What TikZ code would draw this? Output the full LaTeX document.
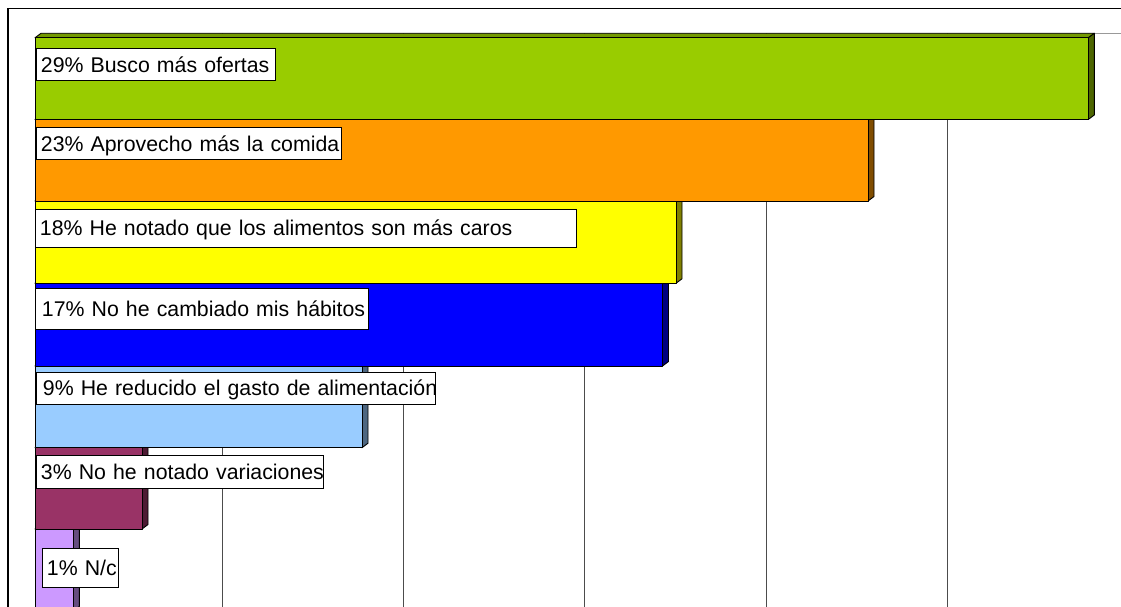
\documentclass[tikz,border=0pt]{standalone}
\usepackage{fontspec}
\setmainfont{Liberation Sans}
\definecolor{gF}{HTML}{99CC00}\definecolor{gS}{HTML}{4D6600}\definecolor{gT}{HTML}{739900}
\definecolor{oF}{HTML}{FF9900}\definecolor{oS}{HTML}{804D00}\definecolor{oT}{HTML}{BF7300}
\definecolor{yF}{HTML}{FFFF00}\definecolor{yS}{HTML}{808000}\definecolor{yT}{HTML}{BFBF00}
\definecolor{bF}{HTML}{0000FF}\definecolor{bS}{HTML}{000080}\definecolor{bT}{HTML}{0000BF}
\definecolor{lF}{HTML}{99CCFF}\definecolor{lS}{HTML}{4D6680}\definecolor{lT}{HTML}{7399BF}
\definecolor{mF}{HTML}{993366}\definecolor{mS}{HTML}{4D1A33}\definecolor{mT}{HTML}{73264D}
\definecolor{pF}{HTML}{CC99FF}\definecolor{pS}{HTML}{664D80}\definecolor{pT}{HTML}{9973BF}
\newcommand\mybar[6]{%
  \filldraw[fill=#3,barline] (35,#4) -- (41,#4-4.5) -- (#6+6,#4-4.5) -- (#6,#4) -- cycle;
  \filldraw[fill=#2,barline] (#6,#4) -- (#6+6,#4-4.5) -- (#6+6,#5-4.5) -- (#6,#5) -- cycle;
  \filldraw[fill=#1,barline] (35,#4) rectangle (#6,#5);
}
\begin{document}
\begin{tikzpicture}[x=1pt,y=-1pt,
  lbl/.style={draw=black, line width=0.9pt, fill=white, anchor=north west,
    inner xsep=4.5pt, inner ysep=0pt, align=left,
    font=\fontsize{21.3}{26}\selectfont, text height=15.3pt, text depth=0pt},
  gridline/.style={draw=black!70, line width=1pt},
  walltop/.style={draw=black!40, line width=1pt},
  barline/.style={draw=black, line width=0.9pt, line join=round},
  frame/.style={draw=black, line width=1.2pt}]
\useasboundingbox (0,0) rectangle (1121,607);
\clip (0,0) rectangle (1121,607);
% frame
\draw[frame] (8,607) -- (8,8.3) -- (1121,8.3);
% back wall
\draw[walltop] (41,33.3) -- (1121,33.3);
\foreach \gx in {222,403.3,584.5,766,947.3} \draw[gridline] (\gx,33.3) -- (\gx,607);
% bars, bottom to top
\mybar{pF}{pS}{pT}{529}{611}{73.3}
\mybar{mF}{mS}{mT}{447.7}{529}{142}
\mybar{lF}{lS}{lT}{366}{447.7}{362}
\mybar{bF}{bS}{bT}{283.3}{366}{662.5}
\mybar{yF}{yS}{yT}{201}{283.3}{676}
\mybar{oF}{oS}{oT}{119.5}{201}{868}
\mybar{gF}{gS}{gT}{37.8}{119.5}{1088.3}
% labels
\node[lbl, text width=230pt, minimum height=32pt] (l29) at (36,48.3) {\mbox{29\% Busco más ofertas}};
\node[lbl, text width=296pt, minimum height=32pt] (l23) at (36,127.3) {\mbox{23\% Aprovecho más la comida}};
\node[lbl, text width=532pt, minimum height=38pt] (l18) at (35,208.5) {\mbox{18\% He notado que los alimentos son más caros}};
\node[lbl, inner xsep=6.5pt, text width=320pt, minimum height=41pt] (l17) at (35,288) {\mbox{17\% No he cambiado mis hábitos}};
\node[lbl, inner xsep=6.5pt, text width=386pt, minimum height=32pt] (l9) at (36,371.7) {\mbox{9\% He reducido el gasto de alimentación}};
\node[lbl, text width=278pt, minimum height=33pt] (l3) at (36,455) {\mbox{3\% No he notado variaciones}};
\node[lbl, text width=67pt, minimum height=39pt] (l1) at (42,548) {\mbox{1\% N/c}};
\end{tikzpicture}
\end{document}
